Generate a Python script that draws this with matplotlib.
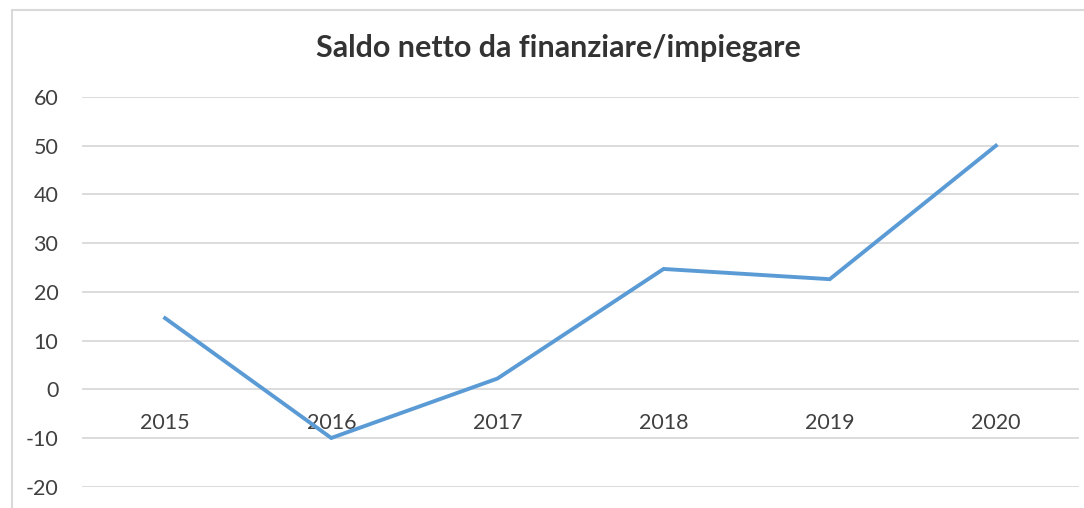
import matplotlib.pyplot as plt
from matplotlib.patches import Rectangle
from matplotlib.ticker import FuncFormatter

years = ["2015", "2016", "2017", "2018", "2019", "2020"]
saldo = [14.6, -10.0, 2.2, 24.7, 22.6, 50.0]
y_ticks = [-20, -10, 0, 10, 20, 30, 40, 50, 60]

plt.rcParams['font.family'] = ['Lato', 'DejaVu Sans']

fig = plt.figure(figsize=(10.84, 5.08), dpi=100)
W, H = 1084, 508

# chart frame (Excel style), cut off at right and bottom
fig.patches.append(Rectangle((12 / W, -0.1), 1.2, (508 - 10) / H + 0.1,
                             transform=fig.transFigure, fill=False,
                             edgecolor='#D9D9D9', linewidth=1.5))

ax = fig.add_axes([82 / W, (508 - 486.7) / H, (1079 - 82) / W, (486.7 - 97) / H])
x = list(range(len(years)))
ax.plot(x, saldo, color='#5B9BD5', linewidth=2.8, solid_joinstyle='miter', zorder=3)

ax.set_xlim(-0.5, len(years) - 0.5)
ax.set_ylim(-20, 60)
ax.set_yticks(y_ticks)
ax.yaxis.set_major_formatter(FuncFormatter(lambda v, p: "%d" % v))
ax.set_xticks(x)
ax.set_xticklabels(years)
ax.grid(axis='y', color='#D9D9D9', linewidth=1.3)
ax.set_axisbelow(True)
for s in ax.spines.values():
    s.set_visible(False)
ax.spines['bottom'].set_position(('data', 0))
ax.tick_params(axis='both', length=0, labelsize=15.5, labelcolor='#404040')
ax.tick_params(axis='x', pad=17)
ax.tick_params(axis='y', pad=17)

fig.text(558 / W, 1 - 48 / H, "Saldo netto da finanziare/impiegare",
         ha='center', va='center', fontsize=22, fontweight='bold', color='#333333')

fig.savefig("out.png", dpi=100)
